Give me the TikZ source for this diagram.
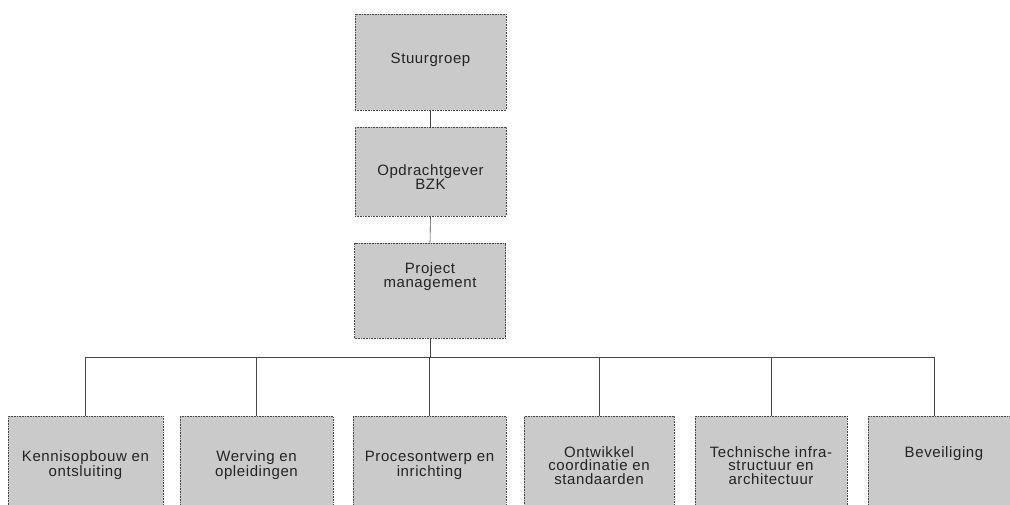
\documentclass[tikz,border=0pt]{standalone}
\usepackage{fontspec}
\setmainfont[LetterSpace=4]{Liberation Sans}
\definecolor{boxfill}{RGB}{202,202,202}
\definecolor{boxline}{RGB}{70,70,70}
\definecolor{txt}{RGB}{35,35,35}
\begin{document}
\begin{tikzpicture}[x=1pt,y=-1pt,
  orgbox/.style={draw=boxline, line width=0.6pt, densely dotted, fill=boxfill,
    minimum width=151pt, align=center, text=txt,
    font=\fontsize{15}{13.5}\selectfont, inner sep=2pt},
  topbox/.style={orgbox, minimum height=94pt},
  lowbox/.style={orgbox, minimum height=98pt, anchor=north},
  link/.style={draw=boxline, line width=0.6pt}]
\clip (0,0) rectangle (1010,504);
\fill[white] (0,0) rectangle (1010,504);
\node[topbox, minimum height=96pt] (sg) at (430.5,62) {Stuurgroep\\[-5.5pt]};
\node[topbox, minimum height=89pt] (bzk) at (430.5,171.5) {\mbox{}\\[8.5pt]Opdrachtgever\\BZK};
\node[topbox, minimum height=95pt] (pm) at (430,290.5) {Project\\management\\[17.5pt]};
\node[lowbox, minimum width=155pt] (k) at (85.5,416) {Kennisopbouw en\\ontsluiting};
\node[lowbox, minimum width=153pt] (w) at (256.5,416) {Werving en\\opleidingen};
\node[lowbox, minimum width=153pt] (p) at (429.5,416) {Procesontwerp en\\inrichting};
\node[lowbox, minimum width=150pt] (o) at (599,416) {Ontwikkel\\coordinatie en\\standaarden};
\node[lowbox, minimum width=152pt] (t) at (771,416) {Technische infra-\\structuur en\\architectuur};
\node[lowbox, minimum width=152pt] (b) at (944,416) {Beveiliging\\[12.5pt]};
\coordinate (bus) at (430,357);
\draw[link] (sg.south) -- (bzk.north);
\draw[link] (bzk.south) -- (pm.north);
\draw[link] (pm.south) -- (pm.south |- bus);
\draw[link] (k.north) -- (k.north |- bus) -- ([xshift=-10pt]b.north |- bus) -- ([xshift=-10pt]b.north);
\foreach \n in {w,p,o,t} \draw[link] (\n.north) -- (\n.north |- bus);
\end{tikzpicture}
\end{document}
